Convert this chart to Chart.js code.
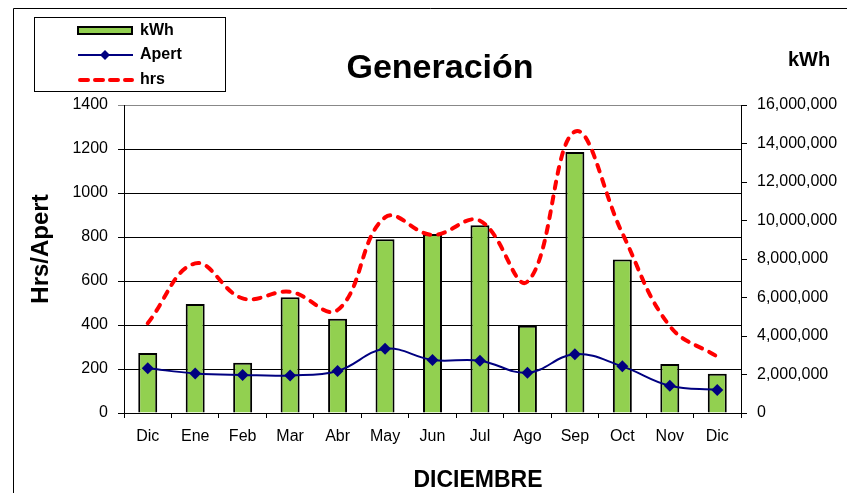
<!DOCTYPE html>
<html>
<head>
<meta charset="utf-8">
<script src="https://cdn.jsdelivr.net/npm/chart.js@4"></script>
<style>
  body { margin: 0; background: #fff; }
  canvas { display: block; }
</style>
</head>
<body>
<canvas id="genChart" width="847" height="493"></canvas>
<script>
// data
const months = ['Dic', 'Ene', 'Feb', 'Mar', 'Abr', 'May', 'Jun', 'Jul', 'Ago', 'Sep', 'Oct', 'Nov', 'Dic'];
const kwhValues = [3120000, 5660000, 2610000, 6010000, 4900000, 9020000, 9300000, 9750000, 4530000, 13560000, 7980000, 2550000, 2040000];
const apertValues = [203, 180, 173, 171, 191, 292, 241, 238, 183, 267, 212, 124, 105];
const hrsValues = [408, 680, 521, 551, 468, 889, 809, 874, 597, 1279, 817, 395, 256];
const leftTicks = { min: 0, max: 1400, step: 200 };
const rightTicks = { min: 0, max: 16000000, step: 2000000 };

const FONT = "'Liberation Sans', Arial, sans-serif";
Chart.defaults.font.family = FONT;
Chart.defaults.font.size = 16;
Chart.defaults.color = '#000';

// titles, legend box and outer frame are painted on top
const decorations = {
    id: 'decorations',
    afterDraw(chart) {
        const c = chart.ctx;
        c.save();

        // outer chart frame (runs past the picture edge)
        c.strokeStyle = '#000';
        c.lineWidth = 1;
        c.beginPath();
        c.moveTo(13.5, 493);
        c.lineTo(13.5, 8.5);
        c.lineTo(847, 8.5);
        c.stroke();

        c.fillStyle = '#000';
        c.textAlign = 'center';
        c.textBaseline = 'alphabetic';
        c.font = 'bold 34px ' + FONT;
        c.fillText('Generación', 440, 78);

        c.font = 'bold 20px ' + FONT;
        c.fillText('kWh', 809, 66);

        c.font = 'bold 23px ' + FONT;
        c.fillText('DICIEMBRE', 478, 487);

        c.save();
        c.translate(48, 249);
        c.rotate(-Math.PI / 2);
        c.font = 'bold 24px ' + FONT;
        c.fillText('Hrs/Apert', 0, 0);
        c.restore();

        // legend box
        c.strokeStyle = '#000';
        c.lineWidth = 1;
        c.strokeRect(34.5, 17.5, 191, 74);

        const ds = chart.data.datasets;
        c.font = 'bold 16px ' + FONT;
        c.textAlign = 'left';
        c.textBaseline = 'middle';

        // kWh
        c.fillStyle = ds[0].backgroundColor;
        c.fillRect(78, 27, 54, 7);
        c.strokeStyle = '#000';
        c.lineWidth = 2;
        c.strokeRect(78, 27, 54, 7);
        c.fillStyle = '#000';
        c.fillText(ds[0].label, 140, 31);

        // Apert
        c.strokeStyle = ds[1].borderColor;
        c.lineWidth = 2;
        c.beginPath();
        c.moveTo(78, 55);
        c.lineTo(133, 55);
        c.stroke();
        c.fillStyle = ds[1].borderColor;
        c.beginPath();
        c.moveTo(105, 50);
        c.lineTo(110, 55);
        c.lineTo(105, 60);
        c.lineTo(100, 55);
        c.closePath();
        c.fill();
        c.fillStyle = '#000';
        c.fillText(ds[1].label, 140, 55);

        // hrs
        c.strokeStyle = ds[2].borderColor;
        c.lineWidth = 4;
        c.lineCap = 'round';
        c.setLineDash([8, 7]);
        c.beginPath();
        c.moveTo(80, 80);
        c.lineTo(132, 80);
        c.stroke();
        c.setLineDash([]);
        c.fillStyle = '#000';
        c.fillText(ds[2].label, 140, 80);

        c.restore();
    }
};

const ctx = document.getElementById('genChart').getContext('2d');

new Chart(ctx, {
    type: 'bar',
    data: {
        labels: months,
        datasets: [{
            type: 'bar',
            label: 'kWh',
            data: kwhValues,
            yAxisID: 'y1',
            backgroundColor: '#92D050',
            borderColor: '#000',
            borderWidth: 2,
            barPercentage: 0.4,
            categoryPercentage: 1,
            order: 3
        }, {
            type: 'line',
            label: 'Apert',
            data: apertValues,
            yAxisID: 'y',
            borderColor: '#000080',
            backgroundColor: '#000080',
            borderWidth: 2,
            pointStyle: 'rectRot',
            pointRadius: 6,
            pointBorderWidth: 0,
            tension: 0.4,
            order: 1
        }, {
            type: 'line',
            label: 'hrs',
            data: hrsValues,
            yAxisID: 'y',
            borderColor: '#FF0000',
            backgroundColor: '#FF0000',
            borderWidth: 4,
            borderDash: [7, 8],
            borderCapStyle: 'round',
            pointRadius: 0,
            tension: 0.4,
            order: 2
        }]
    },
    options: {
        responsive: false,
        animation: false,
        layout: { padding: { top: 105, left: 0, right: 0, bottom: 0 } },
        plugins: {
            legend: { display: false },
            tooltip: { enabled: false }
        },
        scales: {
            x: {
                afterFit(s) { s.height = 80; },
                offset: true,
                grid: {
                    offset: true,
                    drawOnChartArea: false,
                    color: '#000',
                    tickLength: 5
                },
                border: { color: '#000' },
                ticks: { padding: 9, maxRotation: 0 }
            },
            y: {
                position: 'left',
                min: leftTicks.min,
                max: leftTicks.max,
                afterFit(s) { s.width = 124; },
                ticks: {
                    stepSize: leftTicks.step,
                    padding: 10,
                    callback: v => String(v)
                },
                grid: {
                    color: c => (c.tick && c.tick.value === leftTicks.max ? '#888' : '#000'),
                    tickLength: 6
                },
                border: { color: '#000' }
            },
            y1: {
                position: 'right',
                min: rightTicks.min,
                max: rightTicks.max,
                afterFit(s) { s.width = 106; },
                ticks: {
                    stepSize: rightTicks.step,
                    padding: 10,
                    callback: v => v.toLocaleString('en-US')
                },
                grid: { drawOnChartArea: false, color: '#000', tickLength: 6 },
                border: { color: '#000' }
            }
        }
    },
    plugins: [decorations]
});
</script>
</body>
</html>
